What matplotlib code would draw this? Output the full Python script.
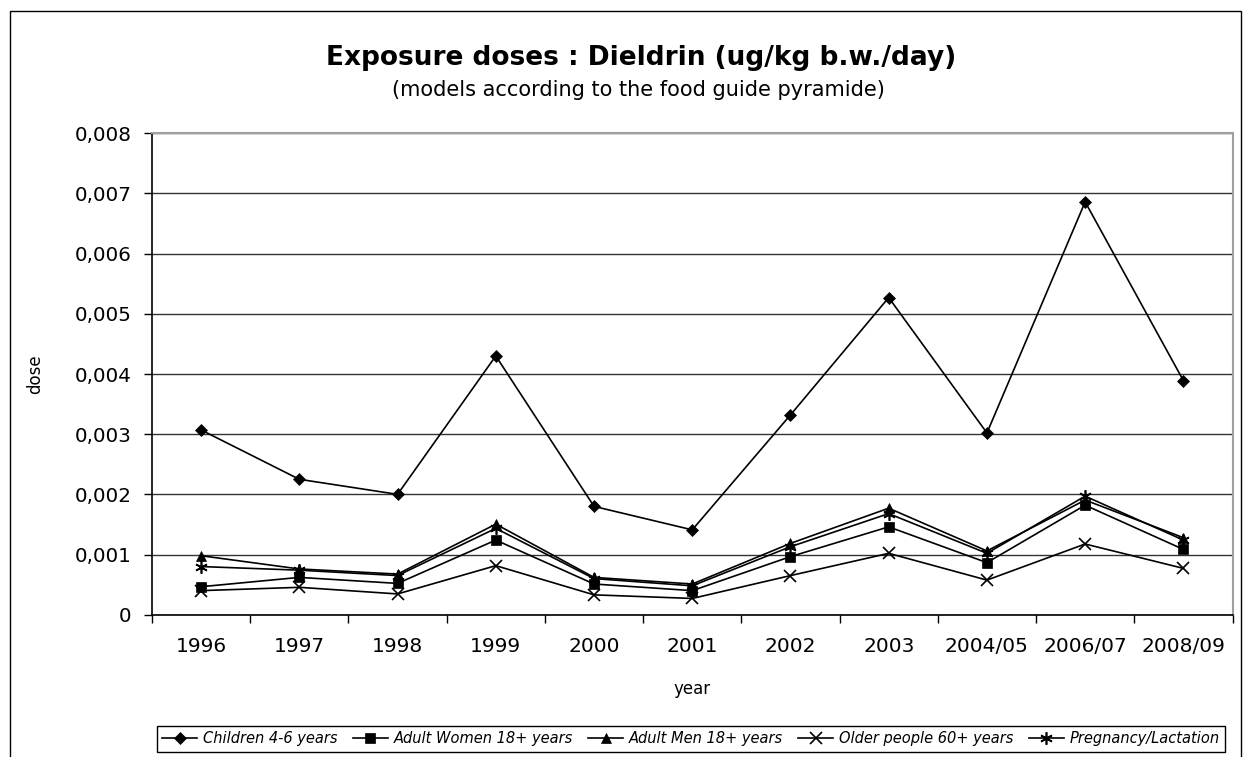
import matplotlib
matplotlib.use("Agg")
import matplotlib.pyplot as plt
from matplotlib.patches import Rectangle
from matplotlib.ticker import FixedLocator, FuncFormatter

years = ["1996", "1997", "1998", "1999", "2000", "2001", "2002", "2003",
         "2004/05", "2006/07", "2008/09"]
children = [3.07, 2.25, 2.00, 4.30, 1.80, 1.41, 3.32, 5.27, 3.02, 6.86, 3.89]
women = [0.465, 0.62, 0.52, 1.24, 0.51, 0.40, 0.965, 1.46, 0.865, 1.82, 1.085]
men = [0.98, 0.76, 0.675, 1.505, 0.62, 0.51, 1.185, 1.77, 1.06, 1.905, 1.28]
older = [0.40, 0.455, 0.345, 0.815, 0.33, 0.27, 0.65, 1.02, 0.575, 1.175, 0.77]
pregnancy = [0.80, 0.74, 0.65, 1.435, 0.60, 0.48, 1.13, 1.68, 1.02, 1.97, 1.24]
scale = 0.001

series = [
    ("Children 4-6 years", children, "D", 6.5),
    ("Adult Women 18+ years", women, "s", 6.5),
    ("Adult Men 18+ years", men, "^", 7.5),
    ("Older people 60+ years", older, "x", 8),
    ("Pregnancy/Lactation", pregnancy, (6, 2, 0), 9),
]

plt.rcParams['font.family'] = ['DejaVu Sans']

W, H = 1243, 757
fig = plt.figure(figsize=(W / 100, H / 100), dpi=100)
ax = fig.add_axes([152 / W, 1 - 614.7 / H, (1232.5 - 152) / W, (614.7 - 133.3) / H])

x = list(range(len(years)))
for name, vals, mk, ms in series:
    thin = mk == "x" or isinstance(mk, tuple)
    ax.plot(x, [v * scale for v in vals], color="black", lw=1.2, marker=mk,
            markersize=ms, markeredgewidth=1.2 if thin else 0.5,
            markerfacecolor="black", markeredgecolor="black", label=name)

ax.set_xlim(-0.5, len(years) - 0.5)
ax.set_ylim(0, 0.008)
ax.set_yticks([i * 0.001 for i in range(9)])
ax.yaxis.set_major_formatter(FuncFormatter(
    lambda v, p: "0" if abs(v) < 1e-12 else f"{v:.3f}".replace(".", ",")))
ax.set_xticks(x)
ax.set_xticklabels(years)
ax.xaxis.set_minor_locator(FixedLocator([i - 0.5 for i in range(len(years) + 1)]))
ax.tick_params(axis="x", which="major", length=0, pad=16, labelsize=14.5)
ax.tick_params(axis="x", which="minor", length=5.8, direction="out", width=1)
ax.tick_params(axis="y", length=5.8, direction="out", width=1, labelsize=14.3, pad=9)
ax.grid(axis="y", color="#333333", lw=1)
ax.set_axisbelow(True)
for s in ("top", "right"):
    ax.spines[s].set_color("#a0a0a0")
    ax.spines[s].set_linewidth(1.5)
for s in ("left", "bottom"):
    ax.spines[s].set_color("black")
    ax.spines[s].set_linewidth(1.2)

ax.set_xlabel("year", fontsize=12, labelpad=17)
ax.set_ylabel("dose", fontsize=12, labelpad=22)

fig.text(641 / W, 1 - 58 / H, "Exposure doses : Dieldrin (ug/kg b.w./day)",
         ha="center", va="center", fontsize=19, fontweight="bold")
fig.text(638 / W, 1 - 90 / H, "(models according to the food guide pyramide)",
         ha="center", va="center", fontsize=15)

leg = fig.legend(loc="center", bbox_to_anchor=(691 / W, 1 - 739 / H), ncol=5,
                 frameon=True, fancybox=False, edgecolor="black", framealpha=1,
                 handlelength=2.4, handletextpad=0.4, columnspacing=1.05,
                 borderpad=0.35, prop={"style": "italic", "size": 10.5})
leg.get_frame().set_linewidth(1)

fig.patches.append(Rectangle((10 / W, -0.05), (1241 - 10) / W, 1.05 - 11 / H,
                             transform=fig.transFigure, fill=False,
                             edgecolor="black", lw=1))

fig.savefig("out.png", dpi=100)
